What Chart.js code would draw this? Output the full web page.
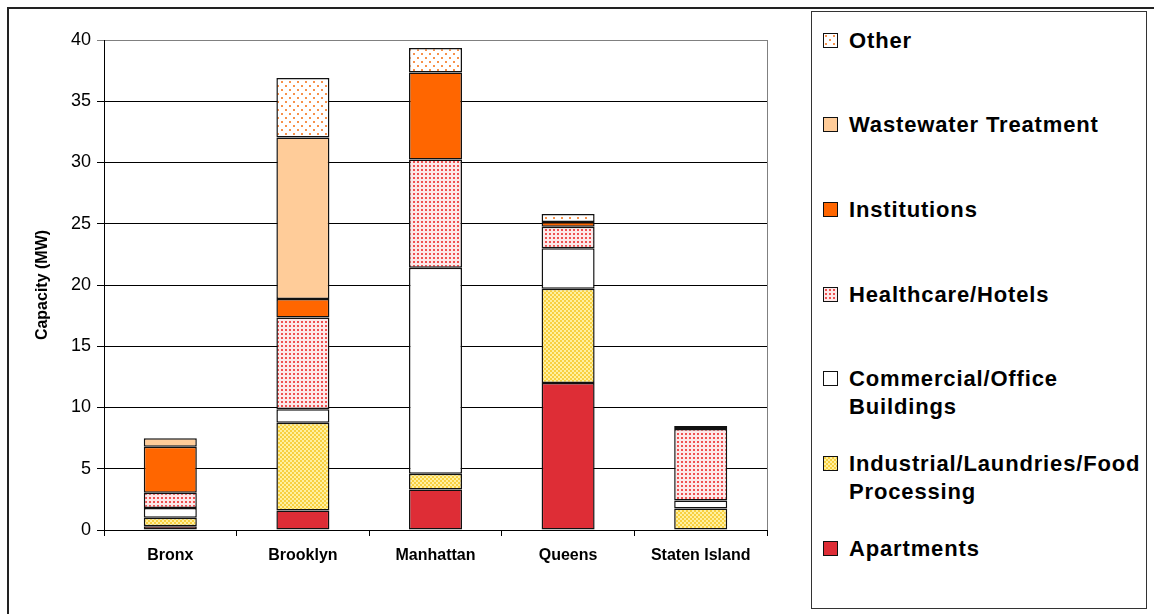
<!DOCTYPE html>
<html>
<head>
<meta charset="utf-8">
<script src="https://cdn.jsdelivr.net/npm/chart.js@4/dist/chart.umd.min.js"></script>
<style>
  body { margin: 0; width: 1154px; height: 614px; overflow: hidden; background: #fff;
         font-family: "Liberation Sans", Arial, sans-serif; }
  #frame { position: absolute; left: 7px; top: 7px; width: 1160px; height: 620px;
           border-left: 2px solid #222; border-top: 2px solid #222; }
  #wrap { position: absolute; left: 0; top: 0; width: 805px; height: 614px; }
  #legend { position: absolute; left: 811px; top: 11px; width: 334px; height: 596px;
            border: 1.5px solid #333; background: #fff; }
  .item { position: absolute; left: 11px; display: flex; align-items: flex-start; }
  .item canvas { width: 13px; height: 13px; border: 1.5px solid #111; margin-top: 6px; }
  .item span { margin-left: 11px; font-weight: bold; font-size: 22px; line-height: 28px;
               letter-spacing: 0.85px; white-space: pre-line; color: #000; }
</style>
</head>
<body>
<div id="frame"></div>
<div id="wrap"><canvas id="myChart"></canvas></div>
<div id="legend"></div>
<script>
const boroughs = ["Bronx", "Brooklyn", "Manhattan", "Queens", "Staten Island"];
const yTicks = [0, 5, 10, 15, 20, 25, 30, 35, 40];

// bottom of the stack first
const apartments   = [0.3, 1.6, 3.3, 12.0, 0];
const industrial   = [0.7, 7.15, 1.3, 7.7, 1.75];
const commercial   = [0.8, 1.1, 16.8, 3.3, 0.65];
const healthcare   = [1.25, 7.5, 8.85, 1.75, 5.85];
const institutions = [3.75, 1.5, 7.1, 0.4, 0];
const wastewater   = [0.7, 13.2, 0, 0, 0.25];
const other        = [0, 4.85, 2.0, 0.65, 0];

const names = ["Apartments", "Industrial/Laundries/Food\nProcessing", "Commercial/Office\nBuildings",
  "Healthcare/Hotels", "Institutions", "Wastewater Treatment", "Other"];

function makePattern(bg, dot, size, dots) {
  const c = document.createElement('canvas');
  c.width = size;
  c.height = size;
  const g = c.getContext('2d');
  g.fillStyle = bg;
  g.fillRect(0, 0, size, size);
  g.fillStyle = dot;
  dots.forEach(d => g.fillRect(d[0], d[1], d[2], d[2]));
  return g.createPattern(c, 'repeat');
}

const otherFill = makePattern('#ffffff', '#f7914a', 8, [[1, 1, 2], [5, 5, 2]]);
const healthFill = makePattern('#fde8e8', '#ef5050', 4, [[1, 1, 2]]);
const industrialFill = makePattern('#fff0a0', '#f8d040', 4, [[0, 0, 2], [2, 2, 2]]);

const fills = ['#de2d36', industrialFill, '#ffffff', healthFill, '#ff6600', '#ffcc99', otherFill];
const values = [apartments, industrial, commercial, healthcare, institutions, wastewater, other];

const plotBorder = {
  id: 'plotBorder',
  afterDraw(chart) {
    const a = chart.chartArea;
    const ctx = chart.ctx;
    ctx.save();
    ctx.strokeStyle = '#808080';
    ctx.lineWidth = 1;
    ctx.beginPath();
    ctx.moveTo(a.right + 0.5, a.top);
    ctx.lineTo(a.right + 0.5, a.bottom);
    ctx.stroke();
    ctx.restore();
  }
};

const ctx = document.getElementById('myChart').getContext('2d');
const myChart = new Chart(ctx, {
  type: 'bar',
  data: {
    labels: boroughs,
    datasets: values.map((v, i) => ({
      label: names[i],
      data: v,
      backgroundColor: fills[i],
      borderColor: '#111',
      borderWidth: c => c.raw === 0 ? 0 : 1.5,
      borderSkipped: false,
      barPercentage: 0.4,
      categoryPercentage: 1.0
    }))
  },
  options: {
    responsive: true,
    maintainAspectRatio: false,
    animation: false,
    layout: { padding: { left: 33, top: 40, right: 38, bottom: 0 } },
    plugins: { legend: { display: false }, tooltip: { enabled: false } },
    scales: {
      x: {
        stacked: true,
        grid: { offset: true, drawOnChartArea: false, tickLength: 6, color: '#000' },
        border: { color: '#000', width: 1 },
        ticks: { color: '#000', font: { family: 'Liberation Sans', size: 16, weight: 'bold' }, padding: 10 },
        afterFit(scale) { scale.height = 84; }
      },
      y: {
        stacked: true,
        min: yTicks[0],
        max: yTicks[yTicks.length - 1],
        afterBuildTicks(scale) { scale.ticks = yTicks.map(v => ({ value: v })); },
        grid: {
          tickLength: 7,
          lineWidth: 1,
          color: c => (c.tick && c.tick.value === 40) ? '#808080' : '#000'
        },
        border: { color: '#000', width: 1 },
        ticks: { color: '#000', font: { family: 'Liberation Sans', size: 18 }, padding: 6 },
        title: {
          display: true,
          text: 'Capacity (MW)',
          color: '#000',
          font: { family: 'Liberation Sans', size: 16, weight: 'bold' },
          padding: 0
        },
        afterFit(scale) { scale.width = 71; }
      }
    }
  },
  plugins: [plotBorder]
});

// legend box, top entry = last dataset
const legend = document.getElementById('legend');
const sets = myChart.data.datasets.slice().reverse();
sets.forEach((ds, i) => {
  const item = document.createElement('div');
  item.className = 'item';
  item.style.top = (14.5 + i * 84.67) + 'px';
  const sw = document.createElement('canvas');
  sw.width = 13;
  sw.height = 13;
  const g = sw.getContext('2d');
  g.fillStyle = ds.backgroundColor;
  g.fillRect(0, 0, 13, 13);
  const label = document.createElement('span');
  label.textContent = ds.label;
  item.appendChild(sw);
  item.appendChild(label);
  legend.appendChild(item);
});
</script>
</body>
</html>
